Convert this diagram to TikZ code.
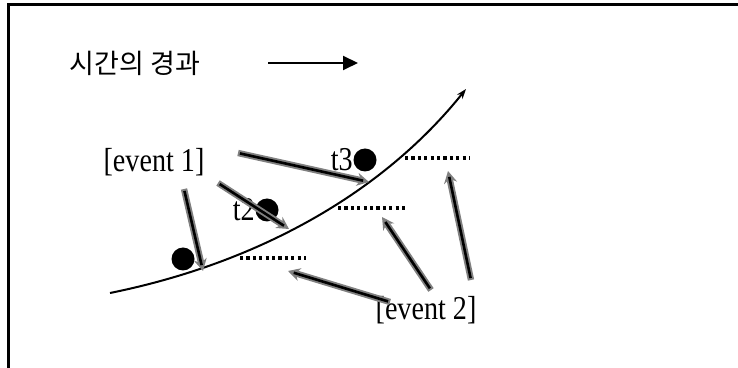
\documentclass[tikz,border=0pt]{standalone}
\usepackage{fontspec}
\setmainfont{Liberation Serif}
\newfontfamily\krfont{Noto Sans CJK KR}
\usetikzlibrary{arrows.meta,positioning}
\newcommand{\tall}[1]{\scalebox{0.97}[1.15]{#1}}

\begin{document}
\begin{tikzpicture}[x=0.5pt,y=-0.5pt,
   lbl/.style={inner sep=0pt,font=\fontsize{14.5}{16}\selectfont},
   dot/.style={circle,fill=black,inner sep=0pt,minimum size=11.5pt},
   evback/.style={draw=gray,line width=3.2pt,-{Stealth[length=6pt,width=6.5pt]}},
   evfront/.style={draw=black,line width=1.3pt,shorten >=3pt,shorten <=1pt},
   dotline/.style={line width=1.8pt,dash pattern=on 1.6pt off 1.6pt}]
   \useasboundingbox (0,0) rectangle (738,368);
   \clip (0,0) rectangle (738,368);
   \draw[line width=1.5pt] (8.5,4.5) rectangle (760,380);

   % time arrow
   \node[inner sep=0pt,font=\krfont\fontsize{13.5}{15}\selectfont] (time) at (135,63) {시간의 경과};
   \coordinate (tl) at (268,63);
   \coordinate (tr) at (358,63);
   \draw[line width=1pt,-{Triangle[length=7.5pt,width=7pt]}] (tl) -- (tr);

   % curve
   \coordinate (cs) at (110,293);
   \coordinate (ce) at (466,89);
   \draw[line width=1pt,-{Stealth[length=5pt,width=3.5pt]}]
      (cs) .. controls (263,262) and (385,190) .. (ce);

   % dotted levels
   \coordinate (c1) at (240,258);  \coordinate (d1) at (306,258);
   \coordinate (c2) at (338,208);  \coordinate (d2) at (405,208);
   \coordinate (c3) at (405,158);  \coordinate (d3) at (470,158);
   \draw[dotline] (c1) -- (d1);
   \draw[dotline] (c2) -- (d2);
   \draw[dotline] (c3) -- (d3);

   % events
   \node[lbl] (ev1) at (154,162) {\tall{[event 1]}};
   \node[lbl] (ev2) at (426,310) {\tall{[event 2]}};
   \node[dot] (t1dot) at (183,259) {};
   \node[dot] (t2dot) at (267,210) {};
   \node[dot] (t3dot) at (365,160) {};
   \node[lbl,left=0pt of t2dot] (t2) {\tall{t2}};
   \node[lbl,left=0pt of t3dot] (t3) {\tall{t3}};

   \coordinate (a1s) at (238,153);  \coordinate (a1e) at (369,182);
   \coordinate (a2s) at (218,183);  \coordinate (a2e) at (289,229);
   \coordinate (a3s) at (184,189);  \coordinate (a3e) at (203,271);
   \coordinate (a4s) at (390,302);  \coordinate (a4e) at (288,271);
   \coordinate (a5s) at (431,290);  \coordinate (a5e) at (382,217);
   \coordinate (a6s) at (471,280);  \coordinate (a6e) at (448,171);
   \foreach \s/\e in {a1s/a1e,a2s/a2e,a3s/a3e,a4s/a4e,a5s/a5e,a6s/a6e}{
      \draw[evback] (\s) -- (\e);
      \draw[evfront] (\s) -- (\e);
   }
\end{tikzpicture}
\end{document}
